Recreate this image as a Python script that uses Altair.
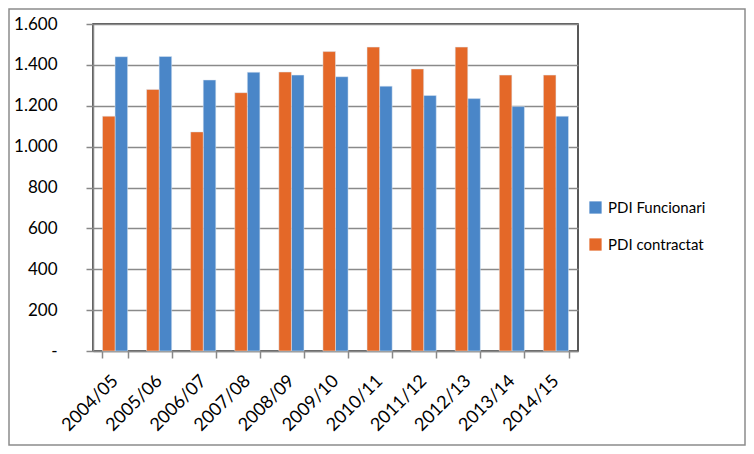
import altair as alt
import pandas as pd

cursos = ['2004/05', '2005/06', '2006/07', '2007/08', '2008/09', '2009/10',
          '2010/11', '2011/12', '2012/13', '2013/14', '2014/15']
funcionari = [1440, 1441, 1326, 1364, 1350, 1342, 1296, 1250, 1235, 1196, 1149]
contractat = [1149, 1280, 1072, 1264, 1365, 1465, 1487, 1380, 1487, 1350, 1350]

series = ['PDI Funcionari', 'PDI contractat']
colors = ['#4A86C8', '#E46828']

df = pd.DataFrame({'curs': cursos, 'PDI Funcionari': funcionari, 'PDI contractat': contractat})
df = df.melt(id_vars='curs', var_name='serie', value_name='valor')

FONT = 'Lato'

bars = alt.Chart(df).mark_bar(stroke='#dfe8f3', strokeWidth=0.5).encode(
    x=alt.X('curs:N', sort=cursos, title=None,
            scale=alt.Scale(paddingInner=0.43, paddingOuter=0.215),
            axis=alt.Axis(labelAngle=315, labelAlign='right', labelBaseline='middle',
                          labelFontSize=18, labelColor='#000', labelFont=FONT,
                          labelPadding=20, tickBand='extent', tickSize=7,
                          tickColor='#888', domainColor='#888', domainWidth=1.5,
                          tickWidth=1.5)),
    xOffset=alt.XOffset('serie:N', scale=alt.Scale(domain=['PDI contractat', 'PDI Funcionari'],
                                                   paddingInner=0)),
    y=alt.Y('valor:Q', title=None,
            scale=alt.Scale(domain=[0, 1600], nice=False),
            axis=alt.Axis(values=[0, 200, 400, 600, 800, 1000, 1200, 1400, 1600],
                          labelExpr="datum.value == 0 ? '-' : replace(format(datum.value, ','), ',', '.')",
                          labelFontSize=17, labelColor='#000', labelFont=FONT,
                          labelPadding=29, tickSize=7, tickColor='#888', tickWidth=1.5,
                          domainColor='#888', domainWidth=1.5,
                          grid=True, gridColor='#8a8a8a', gridWidth=1.5)),
    color=alt.Color('serie:N', title=None,
                    scale=alt.Scale(domain=series, range=colors),
                    legend=alt.Legend(orient='none', legendX=495, legendY=176,
                                      symbolType='square', symbolSize=150,
                                      symbolStrokeWidth=0, labelFontSize=15,
                                      labelFont=FONT, labelColor='#000',
                                      rowPadding=21, labelOffset=5)),
)

frame = alt.Chart(pd.DataFrame({'a': [0]})).mark_rect(
    fillOpacity=0, stroke='#8c8c8c', strokeWidth=1.5, clip=False
).encode(x=alt.value(-84), x2=alt.value(652), y=alt.value(-15), y2=alt.value(421))

chart = alt.layer(bars, frame).properties(
    width=485, height=327,
    autosize=alt.AutoSizeParams(type='none'),
    padding={'left': 85, 'top': 16, 'right': 168, 'bottom': 95},
    background='white',
).configure_view(stroke='#222', strokeWidth=1.5)

chart.save("out.html", embed_options={"renderer": "svg", "actions": False})
